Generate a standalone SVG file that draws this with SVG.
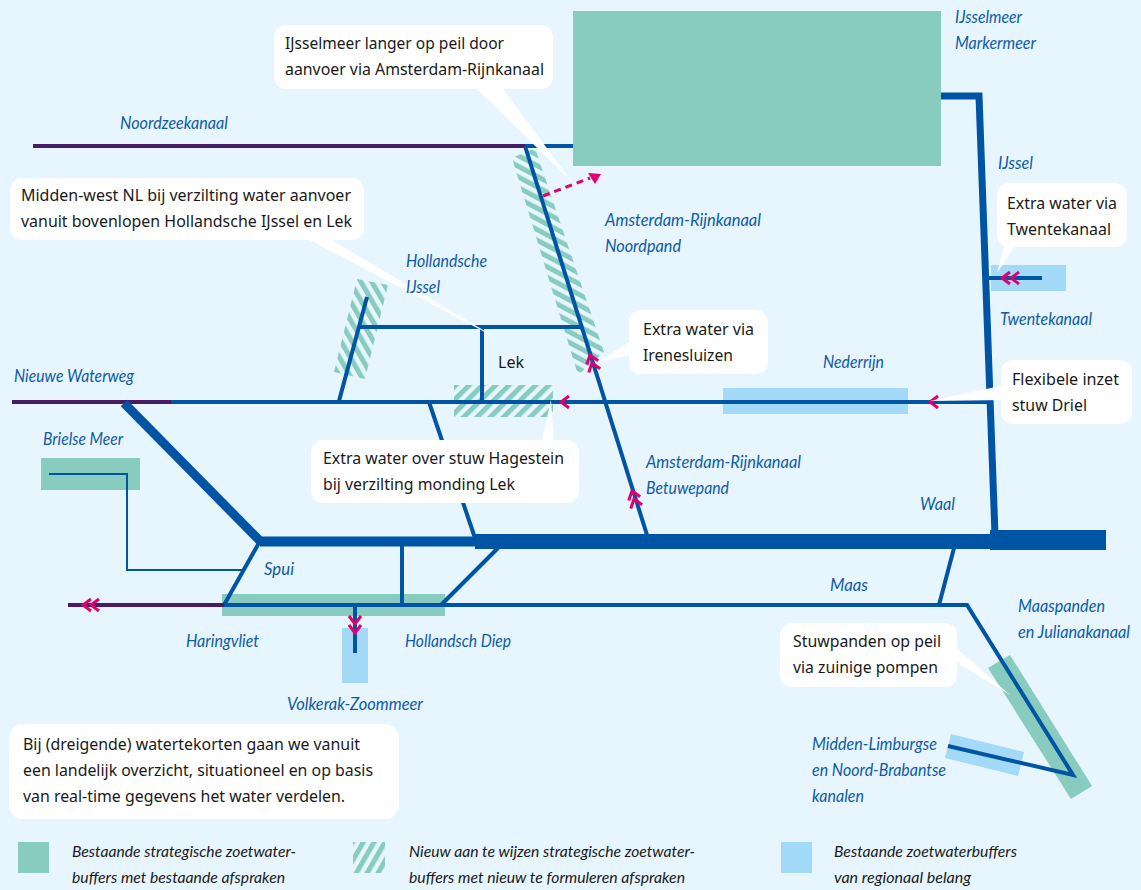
<svg xmlns="http://www.w3.org/2000/svg" width="1141" height="890" viewBox="0 0 1141 890">
<style>
.teal{fill:#88cbbf}.lb{fill:#a3daf8}.w{fill:#fff}
.l{fill:none;stroke:#0054a4;stroke-width:4}
.p{fill:none;stroke:#4a1a66;stroke-width:4}
.c{fill:none;stroke:#e2006e;stroke-width:3}
text{font-family:"Noto Sans","Liberation Sans",sans-serif}
.t{font-size:16px;fill:#1a1a1a}
.i{font-family:"Lato","Noto Sans",sans-serif;font-style:italic;font-size:16.5px;fill:#0f5ba8}
.g{font-family:"Lato","Noto Sans",sans-serif;font-style:italic;font-size:16px;fill:#1a1a1a}
</style>
<defs>
<pattern id="h0" width="9.4" height="9.4" patternUnits="userSpaceOnUse" patternTransform="rotate(45)"><rect width="5" height="9.4" fill="#88cbbf"/></pattern>
<pattern id="h1" width="9.4" height="9.4" patternUnits="userSpaceOnUse" patternTransform="rotate(-62)"><rect width="5" height="9.4" fill="#88cbbf"/></pattern>
<pattern id="h2" width="9.4" height="9.4" patternUnits="userSpaceOnUse" patternTransform="rotate(-30)"><rect width="5" height="9.4" fill="#88cbbf"/></pattern>
<pattern id="h3" width="9.4" height="9.4" patternUnits="userSpaceOnUse" patternTransform="rotate(30)"><rect width="5" height="9.4" fill="#88cbbf"/></pattern>
<path id="chev" d="M8 -6L0 0L8 6" class="c"/>
</defs>
<rect width="1141" height="890" fill="#e6f5fe"/>
<g id="buffers">
<rect class="teal" x="573" y="11" width="368" height="155"/>
<polygon fill="url(#h1)" points="512,158 535,148 604,352 578,375"/>
<polygon fill="url(#h2)" points="357,279 388,285 365,379 334,372"/>
<rect fill="url(#h0)" x="454" y="385" width="99" height="32"/>
<rect class="lb" x="723" y="388" width="185" height="26"/>
<rect class="lb" x="991" y="265" width="75" height="26"/>
<rect class="teal" x="41" y="458" width="99" height="32"/>
<rect class="teal" x="222" y="594" width="223" height="22"/>
<rect class="lb" x="342" y="628" width="26" height="55"/>
<polygon class="teal" points="988,668 1010,655 1092,786 1071,799"/>
<polygon class="lb" points="951,734 1024,752 1018,776 945,758"/>
</g>
<g id="connectors">
<path class="p" d="M33 146H525"/>
<path class="l" d="M525 146H573"/>
<path class="l" d="M525 146L647 535"/>
<path class="l" d="M367 297L339 401"/>
<path class="l" d="M359 327H582"/>
<path class="l" d="M482 327V401"/>
<path class="l" d="M171 402H987"/>
<path class="p" d="M12 402H171"/>
<path class="l" d="M429 402L476 541"/>
<path class="l" style="stroke-width:7" d="M941 96H979L995 535"/>
<path class="l" style="stroke-width:9" d="M124 403L260 541"/>
<path class="l" style="stroke-width:10" d="M260 541.500H480"/>
<path class="l" style="stroke-width:15" d="M475 541.500H990"/>
<path class="l" style="stroke-width:20" d="M990 540H1106"/>
<path class="l" d="M260 541L224 605"/>
<path class="l" style="stroke-width:2" d="M49 474H127V570H245"/>
<path class="l" d="M402 545V605"/>
<path class="l" d="M498 548L441 605"/>
<path class="p" d="M68 605H224"/>
<path class="l" d="M224 605H967L1073 775L948 746"/>
<path class="l" d="M954 548L939 605"/>
<path class="l" d="M355 605V653"/>
<path class="l" d="M988 278H1042"/>
<path fill="none" stroke="#e2006e" stroke-width="3" stroke-dasharray="7 5" d="M543 196L590 178"/>
<polygon fill="#e2006e" points="601,174 588,173 595,184"/>
<use href="#chev" transform="translate(83 605)"/>
<use href="#chev" transform="translate(91 605)"/>
<use href="#chev" transform="translate(355 624) rotate(-90)"/>
<use href="#chev" transform="translate(355 633) rotate(-90)"/>
<use href="#chev" transform="translate(590 355) rotate(72)"/>
<use href="#chev" transform="translate(592 363) rotate(72)"/>
<use href="#chev" transform="translate(632 491) rotate(72)"/>
<use href="#chev" transform="translate(634 499) rotate(72)"/>
<use href="#chev" transform="translate(561 402)"/>
<use href="#chev" transform="translate(930 402)"/>
<use href="#chev" transform="translate(1002 278)"/>
<use href="#chev" transform="translate(1011 278)"/>
</g>
<g id="callout-ijsselmeer"><polygon class="w" points="473,85 500,85 572,182"/><rect class="w" x="274" y="25" width="279" height="64" rx="12"/><text class="t" x="285" y="49" textLength="219" lengthAdjust="spacingAndGlyphs">IJsselmeer langer op peil door</text><text class="t" x="285" y="75" textLength="259" lengthAdjust="spacingAndGlyphs">aanvoer via Amsterdam-Rijnkanaal</text></g>
<g id="callout-midden-west"><polygon class="w" points="302,236 325,236 500,340"/><rect class="w" x="10" y="178" width="354" height="62" rx="12"/><text class="t" x="21" y="201" textLength="330" lengthAdjust="spacingAndGlyphs">Midden-west NL bij verzilting water aanvoer</text><text class="t" x="21" y="227" textLength="331" lengthAdjust="spacingAndGlyphs">vanuit bovenlopen Hollandsche IJssel en Lek</text></g>
<g id="callout-irene"><polygon class="w" points="632,340 632,355 598,362"/><rect class="w" x="629" y="310" width="139" height="64" rx="12"/><text class="t" x="643" y="335" textLength="111" lengthAdjust="spacingAndGlyphs">Extra water via</text><text class="t" x="643" y="361" textLength="90" lengthAdjust="spacingAndGlyphs">Irenesluizen</text></g>
<g id="callout-hagestein"><polygon class="w" points="541,444 554,444 551,400"/><rect class="w" x="311" y="440" width="268" height="63" rx="12"/><text class="t" x="323" y="464" textLength="241" lengthAdjust="spacingAndGlyphs">Extra water over stuw Hagestein</text><text class="t" x="323" y="490" textLength="192" lengthAdjust="spacingAndGlyphs">bij verzilting monding Lek</text></g>
<g id="callout-twente"><polygon class="w" points="1005,243 1017,243 997,273"/><rect class="w" x="997" y="183" width="130" height="64" rx="12"/><text class="t" x="1007" y="209" textLength="110" lengthAdjust="spacingAndGlyphs">Extra water via</text><text class="t" x="1007" y="235" textLength="104" lengthAdjust="spacingAndGlyphs">Twentekanaal</text></g>
<g id="callout-driel"><polygon class="w" points="1005,385 1005,400 930,401"/><rect class="w" x="1001" y="360" width="131" height="64" rx="12"/><text class="t" x="1012" y="385" textLength="107" lengthAdjust="spacingAndGlyphs">Flexibele inzet</text><text class="t" x="1012" y="411" textLength="75" lengthAdjust="spacingAndGlyphs">stuw Driel</text></g>
<g id="callout-stuwpanden"><polygon class="w" points="953,645 953,660 1010,695"/><rect class="w" x="780" y="623" width="177" height="64" rx="12"/><text class="t" x="793" y="647" textLength="148" lengthAdjust="spacingAndGlyphs">Stuwpanden op peil</text><text class="t" x="793" y="673" textLength="145" lengthAdjust="spacingAndGlyphs">via zuinige pompen</text></g>
<g id="note"><rect class="w" x="9" y="724" width="390" height="95" rx="14"/><text class="t" x="23" y="750" textLength="337" lengthAdjust="spacingAndGlyphs">Bij (dreigende) watertekorten gaan we vanuit</text><text class="t" x="23" y="776" textLength="350" lengthAdjust="spacingAndGlyphs">een landelijk overzicht, situationeel en op basis</text><text class="t" x="23" y="802" textLength="322" lengthAdjust="spacingAndGlyphs">van real-time gegevens het water verdelen.</text></g>
<text class="t" x="498" y="368" textLength="26" lengthAdjust="spacingAndGlyphs">Lek</text>
<g id="labels">
<text class="i" x="955" y="23" textLength="67" lengthAdjust="spacingAndGlyphs">IJsselmeer</text><text class="i" x="955" y="49" textLength="81" lengthAdjust="spacingAndGlyphs">Markermeer</text>
<text class="i" x="120" y="129" textLength="108" lengthAdjust="spacingAndGlyphs">Noordzeekanaal</text>
<text class="i" x="998" y="169" textLength="35" lengthAdjust="spacingAndGlyphs">IJssel</text>
<text class="i" x="605" y="226" textLength="156" lengthAdjust="spacingAndGlyphs">Amsterdam-Rijnkanaal</text><text class="i" x="605" y="252" textLength="76" lengthAdjust="spacingAndGlyphs">Noordpand</text>
<text class="i" x="406" y="267" textLength="81" lengthAdjust="spacingAndGlyphs">Hollandsche</text><text class="i" x="406" y="293" textLength="34" lengthAdjust="spacingAndGlyphs">IJssel</text>
<text class="i" x="1000" y="325" textLength="92" lengthAdjust="spacingAndGlyphs">Twentekanaal</text>
<text class="i" x="823" y="368" textLength="61" lengthAdjust="spacingAndGlyphs">Nederrijn</text>
<text class="i" x="14" y="382" textLength="120" lengthAdjust="spacingAndGlyphs">Nieuwe Waterweg</text>
<text class="i" x="43" y="445" textLength="80" lengthAdjust="spacingAndGlyphs">Brielse Meer</text>
<text class="i" x="646" y="468" textLength="155" lengthAdjust="spacingAndGlyphs">Amsterdam-Rijnkanaal</text><text class="i" x="646" y="494" textLength="83" lengthAdjust="spacingAndGlyphs">Betuwepand</text>
<text class="i" x="920" y="510" textLength="35" lengthAdjust="spacingAndGlyphs">Waal</text>
<text class="i" x="264" y="575" textLength="30" lengthAdjust="spacingAndGlyphs">Spui</text>
<text class="i" x="830" y="591" textLength="38" lengthAdjust="spacingAndGlyphs">Maas</text>
<text class="i" x="1018" y="612" textLength="87" lengthAdjust="spacingAndGlyphs">Maaspanden</text><text class="i" x="1018" y="638" textLength="112" lengthAdjust="spacingAndGlyphs">en Julianakanaal</text>
<text class="i" x="186" y="647" textLength="73" lengthAdjust="spacingAndGlyphs">Haringvliet</text>
<text class="i" x="405" y="647" textLength="106" lengthAdjust="spacingAndGlyphs">Hollandsch Diep</text>
<text class="i" x="287" y="710" textLength="136" lengthAdjust="spacingAndGlyphs">Volkerak-Zoommeer</text>
<text class="i" x="812" y="750" textLength="125" lengthAdjust="spacingAndGlyphs">Midden-Limburgse</text><text class="i" x="812" y="776" textLength="134" lengthAdjust="spacingAndGlyphs">en Noord-Brabantse</text><text class="i" x="812" y="802" textLength="52" lengthAdjust="spacingAndGlyphs">kanalen</text>
</g>
<g id="legend">
<rect class="teal" x="18" y="842" width="31" height="31"/><text class="g" x="72" y="857" textLength="224" lengthAdjust="spacingAndGlyphs">Bestaande strategische zoetwater-</text><text class="g" x="72" y="883" textLength="213" lengthAdjust="spacingAndGlyphs">buffers met bestaande afspraken</text>
<rect fill="url(#h3)" x="353" y="842" width="32" height="31"/><text class="g" x="409" y="857" textLength="286" lengthAdjust="spacingAndGlyphs">Nieuw aan te wijzen strategische zoetwater-</text><text class="g" x="409" y="883" textLength="276" lengthAdjust="spacingAndGlyphs">buffers met nieuw te formuleren afspraken</text>
<rect class="lb" x="781" y="842" width="31" height="31"/><text class="g" x="834" y="857" textLength="183" lengthAdjust="spacingAndGlyphs">Bestaande zoetwaterbuffers</text><text class="g" x="834" y="883" textLength="137" lengthAdjust="spacingAndGlyphs">van regionaal belang</text>
</g>
</svg>
